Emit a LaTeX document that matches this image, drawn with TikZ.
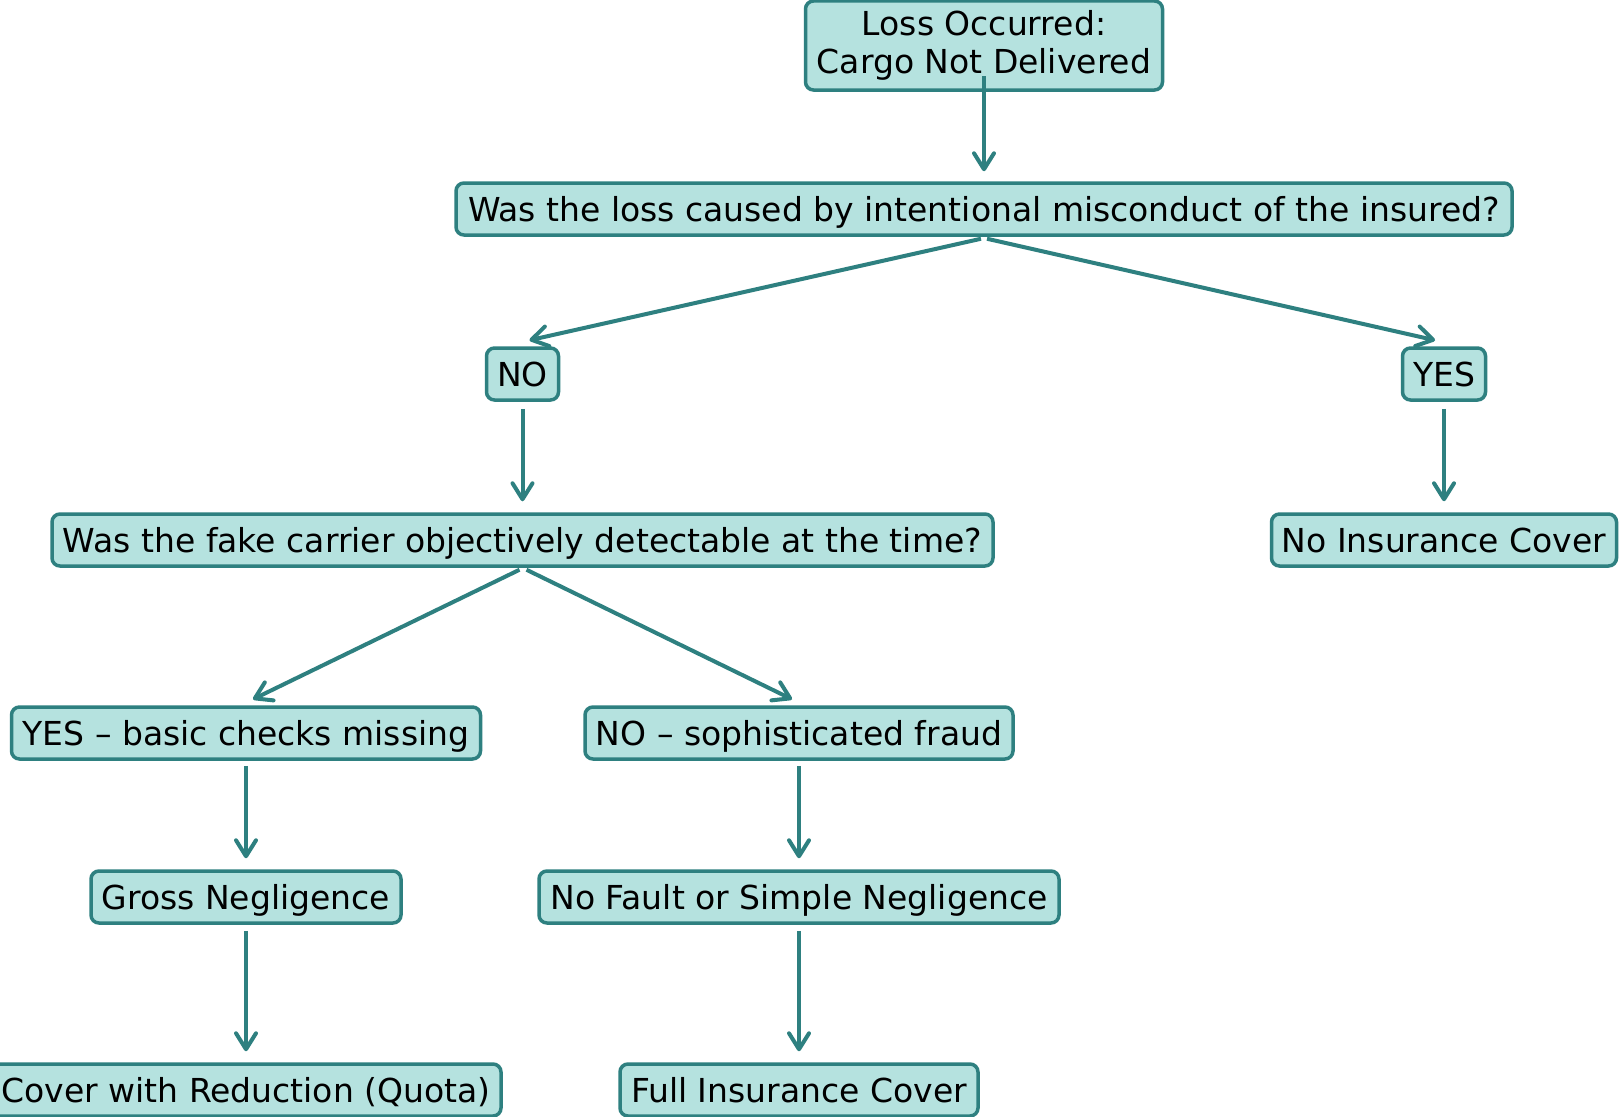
\documentclass[tikz,border=0pt]{standalone}
\usepackage{fontspec}
\setmainfont{DejaVu Sans}
\usetikzlibrary{arrows.meta,calc}
\definecolor{boxfill}{RGB}{181,226,223}
\definecolor{boxline}{RGB}{46,128,128}
\begin{document}
\begin{tikzpicture}[x=1pt,y=-1pt,
  box/.style={draw=boxline, fill=boxfill, line width=3.5pt, rounded corners=8pt,
    minimum height=52pt, inner sep=0pt, align=center,
    font=\fontsize{33}{38}\selectfont},
  oneline/.style={box, text height=30pt, text depth=6pt},
  arr/.style={draw=boxline, line width=4pt,
    -{Straight Barb[length=16pt,width=20pt,line join=round,line cap=round]}}]
\useasboundingbox (0,0) rectangle (1619,1116);
\fill[white] (0,0) rectangle (1619,1116);

% decision tree nodes
\node[box, minimum width=357pt, minimum height=89pt] (top) at (984,45.5) {Loss Occurred:\\Cargo Not Delivered};
\node[oneline, minimum width=1056pt] (q1) at (984,209) {Was the loss caused by intentional misconduct of the insured?};
\node[oneline, minimum width=72pt] (no) at (522.5,374) {NO};
\node[oneline, minimum width=83pt] (yes) at (1444,374) {YES};
\node[oneline, minimum width=941pt] (q2) at (522.5,540) {Was the fake carrier objectively detectable at the time?};
\node[oneline, minimum width=345pt] (noins) at (1444,540) {No Insurance Cover};
\node[oneline, minimum width=469pt] (ybasic) at (246,733) {YES – basic checks missing};
\node[oneline, minimum width=428pt] (nsoph) at (799,733) {NO – sophisticated fraud};
\node[oneline, minimum width=310pt] (gross) at (246,897) {Gross Negligence};
\node[oneline, minimum width=520pt] (nofault) at (799,897) {No Fault or Simple Negligence};
\node[oneline, minimum width=510pt] (cover) at (246,1090) {Cover with Reduction (Quota)};
\node[oneline, minimum width=358pt] (fullins) at (799,1090) {Full Insurance Cover};

% connectors
\draw[arr] ($(top.center)+(0,30.5)$) -- ($(q1.north)+(0,-10)$);
\draw[arr] ($(q1.south)+(-3,2)$) -- ($(no.north)+(7,-6)$);
\draw[arr] ($(q1.south)+(3,2)$) -- ($(yes.north)+(-9,-6)$);
\draw[arr] ($(no.south)+(0,7)$) -- ($(q2.north)+(0,-11)$);
\draw[arr] ($(yes.south)+(0,7)$) -- ($(noins.north)+(0,-11)$);
\draw[arr] ($(q2.south)+(-3,2)$) -- ($(ybasic.north)+(7,-6)$);
\draw[arr] ($(q2.south)+(4,2)$) -- ($(nsoph.north)+(-7,-6)$);
\draw[arr] ($(ybasic.south)+(0,5)$) -- ($(gross.north)+(0,-11)$);
\draw[arr] ($(nsoph.south)+(0,5)$) -- ($(nofault.north)+(0,-11)$);
\draw[arr] ($(gross.south)+(0,6)$) -- ($(cover.north)+(0,-11)$);
\draw[arr] ($(nofault.south)+(0,6)$) -- ($(fullins.north)+(0,-11)$);
\end{tikzpicture}
\end{document}
